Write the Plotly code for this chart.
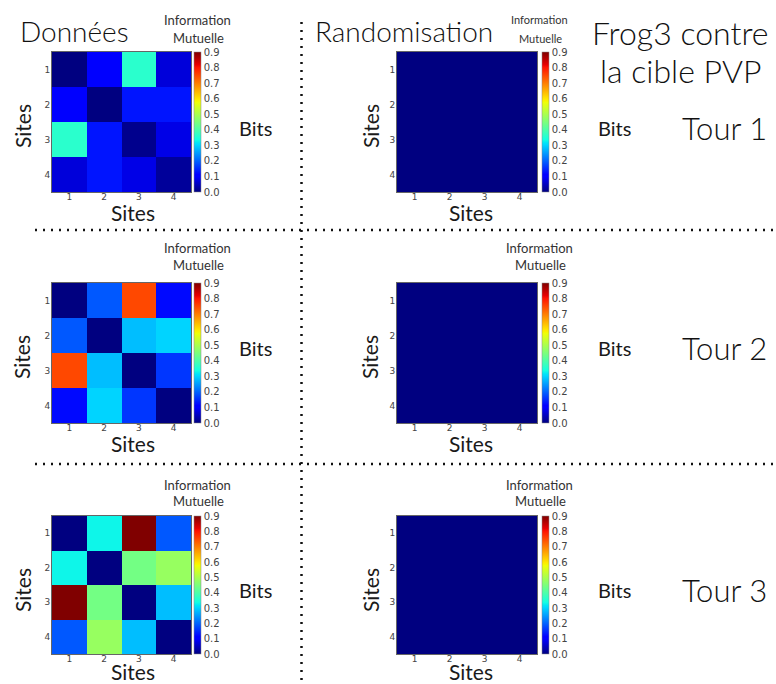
import numpy as np
import plotly.graph_objects as go

# ---------------- data ----------------
sites = [1, 2, 3, 4]
site_labels = ["1", "2", "3", "4"]
cbar_ticks = [0.0, 0.1, 0.2, 0.3, 0.4, 0.5, 0.6, 0.7, 0.8, 0.9]
cbar_labels = ["0.0", "0.1", "0.2", "0.3", "0.4", "0.5", "0.6", "0.7", "0.8", "0.9"]

tour1_donnees = [[0.00, 0.11, 0.36, 0.07],
                 [0.11, 0.00, 0.13, 0.13],
                 [0.36, 0.13, 0.01, 0.08],
                 [0.07, 0.13, 0.08, 0.02]]
tour2_donnees = [[0.00, 0.19, 0.75, 0.12],
                 [0.19, 0.00, 0.28, 0.30],
                 [0.75, 0.28, 0.00, 0.16],
                 [0.12, 0.30, 0.16, 0.00]]
tour3_donnees = [[0.00, 0.33, 0.90, 0.19],
                 [0.33, 0.00, 0.44, 0.48],
                 [0.90, 0.44, 0.00, 0.28],
                 [0.19, 0.48, 0.28, 0.00]]
tour1_random = [[0.0, 0.0, 0.0, 0.0]] * 4
tour2_random = [[0.0, 0.0, 0.0, 0.0]] * 4
tour3_random = [[0.0, 0.0, 0.0, 0.0]] * 4

tours = ["Tour 1", "Tour 2", "Tour 3"]
donnees = [tour1_donnees, tour2_donnees, tour3_donnees]
randoms = [tour1_random, tour2_random, tour3_random]

# ---------------- style ----------------
W, H = 776, 684
def px(x):
    return x / W
def py(y):
    return 1 - y / H

# matplotlib "jet" colormap
_r = [(0, 0), (0.35, 0), (0.66, 1), (0.89, 1), (1, 0.5)]
_g = [(0, 0), (0.125, 0), (0.375, 1), (0.64, 1), (0.91, 0), (1, 0)]
_b = [(0, 0.5), (0.11, 1), (0.34, 1), (0.65, 0), (1, 0)]
stops = sorted(set([p for p, _ in _r + _g + _b]))
def _ch(seg, t):
    return float(np.interp(t, [p for p, _ in seg], [v for _, v in seg]))
jet = [[t, "rgb(%d,%d,%d)" % (round(255 * _ch(_r, t)), round(255 * _ch(_g, t)), round(255 * _ch(_b, t)))]
       for t in stops]

col_x = [(52, 191), (397, 537)]
row_y = [(52, 192), (283, 423), (516, 654)]
cbar_x = [194, 542]

TITLE_FONT = dict(family="Lato", size=28, color="#111", weight=300)
FROG_FONT = dict(family="Lato", size=32, color="#111", weight=300)
TOUR_FONT = dict(family="Lato", size=31, color="#111", weight=300)
LABEL_FONT = dict(family="Lato", size=21, color="#1a1a1a")
BITS_FONT = dict(family="Lato", size=20, color="#1a1a1a")
INFO_FONT = dict(family="Lato", size=13, color="#333")
TICK_FONT = dict(family="DejaVu Sans", size=9, color="#444")
CBAR_FONT = dict(family="DejaVu Sans", size=10, color="#444")

fig = go.Figure()
layout_axes = {}
annotations = []
k = 0
for r in range(3):
    for c in range(2):
        k += 1
        z = donnees[r] if c == 0 else randoms[r]
        xa = "x" if k == 1 else "x%d" % k
        ya = "y" if k == 1 else "y%d" % k
        (x0, x1), (y0, y1) = col_x[c], row_y[r]
        fig.add_trace(go.Heatmap(
            z=z, x=sites, y=sites, xaxis=xa, yaxis=ya,
            colorscale=jet, zmin=0, zmax=0.9, showscale=True, hoverinfo="z",
            colorbar=dict(
                x=px(cbar_x[c]), xanchor="left", xref="paper",
                y=py((y0 + y1) / 2), yanchor="middle", yref="paper",
                len=(y1 - y0) / H, lenmode="fraction", thickness=7,
                xpad=0, ypad=0, outlinewidth=0.5, outlinecolor="#888",
                tickvals=cbar_ticks, ticktext=cbar_labels, ticks="", ticklen=0,
                tickfont=CBAR_FONT,
            ),
        ))
        axname_x = "xaxis" if k == 1 else "xaxis%d" % k
        axname_y = "yaxis" if k == 1 else "yaxis%d" % k
        layout_axes[axname_x] = dict(
            domain=[px(x0), px(x1)], anchor=ya, tickvals=sites, ticktext=site_labels,
            ticks="", ticklen=0, ticklabelstandoff=-4,
            showgrid=False, zeroline=False, showline=True, mirror=True,
            linecolor="#666", linewidth=1, tickfont=TICK_FONT, range=[0.5, 4.5],
        )
        layout_axes[axname_y] = dict(
            domain=[py(y1), py(y0)], anchor=xa, tickvals=sites, ticktext=site_labels,
            ticks="", ticklen=0, ticklabelstandoff=-1,
            showgrid=False, zeroline=False, showline=True, mirror=True,
            linecolor="#666", linewidth=1, tickfont=TICK_FONT, range=[4.5, 0.5],
        )

def ann(text, x, y, font, angle=0):
    annotations.append(dict(text=text, x=px(x), y=py(y), xref="paper", yref="paper",
                            showarrow=False, xanchor="center", yanchor="middle",
                            font=font, textangle=angle, borderpad=0))

# per-row labels
ylab_y = [126, 357, 590]
xlab_y = [213, 443, 671]
bits_y = [128, 348, 590]
info_y = [(20, 38), (248, 265), (485, 501)]
for r in range(3):
    for c, (xl, xs, bx, ix) in enumerate([(22, 133, 255, 197), (370, 471, 614, 539)]):
        ann("Sites", xl, ylab_y[r], LABEL_FONT, angle=-90)
        ann("Sites", xs, xlab_y[r], LABEL_FONT)
        ann("Bits", bx, bits_y[r], BITS_FONT)
        f = INFO_FONT if not (r == 0 and c == 1) else dict(INFO_FONT, size=11)
        ann("Information", ix, info_y[r][0], f)
        ann("Mutuelle", ix + 1, info_y[r][1], f)
    ann(tours[r], 724, bits_y[r], TOUR_FONT)

ann("Données", 74, 31, TITLE_FONT)
ann("Randomisation", 404, 31, TITLE_FONT)
ann("Frog3 contre", 680, 32, FROG_FONT)
ann("la cible PVP", 680, 70, FROG_FONT)

# dotted separators
dot = dict(color="#111", width=2.5, dash="2px,6px")
shapes = [
    dict(type="line", xref="paper", yref="paper", x0=px(301.5), x1=px(301.5), y0=py(22), y1=py(684), line=dot),
    dict(type="line", xref="paper", yref="paper", x0=px(35), x1=px(776), y0=py(230), y1=py(230), line=dot),
    dict(type="line", xref="paper", yref="paper", x0=px(35), x1=px(776), y0=py(464), y1=py(464), line=dot),
]

fig.update_layout(
    width=W, height=H, margin=dict(l=0, r=0, t=0, b=0),
    paper_bgcolor="white", plot_bgcolor="white", showlegend=False,
    annotations=annotations, shapes=shapes, **layout_axes,
)
fig.write_html("out.html")
